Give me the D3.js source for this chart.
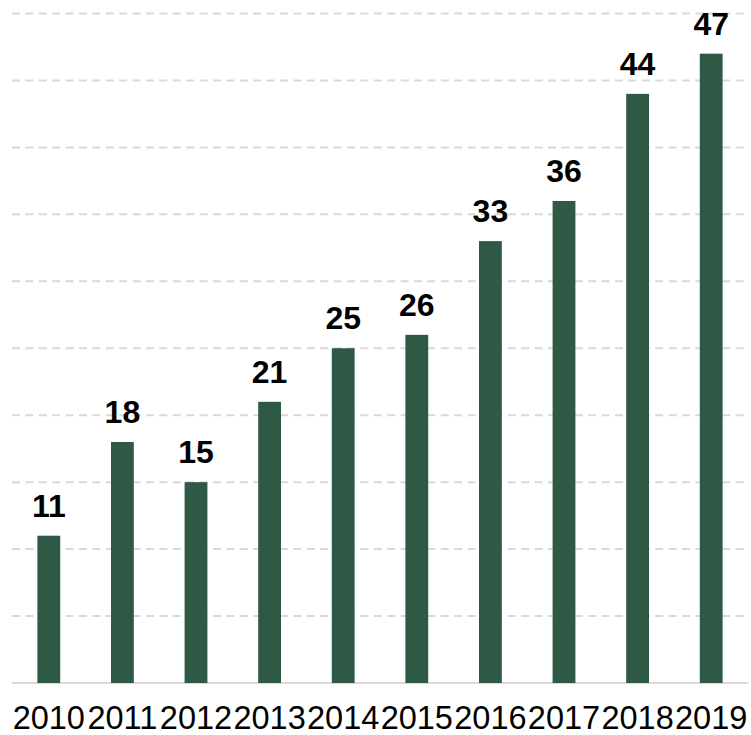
<!DOCTYPE html>
<html>
<head>
<meta charset="utf-8">
<script src="https://d3js.org/d3.v7.min.js"></script>
<style>
 body { margin: 0; background: #fff; }
 .bar { fill: #2e5945; }
 .grid line { stroke: #d9d9d9; stroke-width: 2; stroke-dasharray: 8,5.4; }
 .value { font: bold 32px "Liberation Sans", Arial, sans-serif; fill: #000; text-anchor: middle; }
 .year { font: 32.5px "Liberation Sans", Arial, sans-serif; fill: #000; text-anchor: middle; }
</style>
</head>
<body>
<div id="chart"></div>
<script>
var years = ["2010","2011","2012","2013","2014","2015","2016","2017","2018","2019"];
var values = [11, 18, 15, 21, 25, 26, 33, 36, 44, 47];
var gridTicks = [5, 10, 15, 20, 25, 30, 35, 40, 45, 50];

var width = 751, height = 735;
var plotLeft = 12, plotRight = 748, plotBottom = 683, plotTop = 13.5;

var svg = d3.select("#chart").append("svg")
  .attr("width", width)
  .attr("height", height);

var x = d3.scaleBand().domain(years).range([plotLeft, plotRight])
  .paddingInner(0.69).paddingOuter(0.345);
var y = d3.scaleLinear().domain([0, 50]).range([plotBottom, plotTop]);

svg.append("g").attr("class", "grid")
  .selectAll("line")
  .data(gridTicks)
  .enter().append("line")
  .attr("x1", plotLeft).attr("x2", plotRight)
  .attr("y1", d => y(d)).attr("y2", d => y(d));

svg.append("line")
  .attr("x1", plotLeft).attr("x2", plotRight)
  .attr("y1", y(0)).attr("y2", y(0))
  .attr("stroke", "#d9d9d9").attr("stroke-width", 2);

svg.selectAll(".bar")
  .data(values)
  .enter().append("rect")
  .attr("class", "bar")
  .attr("x", (d, i) => x(years[i]))
  .attr("y", d => y(d))
  .attr("width", x.bandwidth())
  .attr("height", d => y(0) - y(d));

svg.selectAll(".value")
  .data(values)
  .enter().append("text")
  .attr("class", "value")
  .attr("x", (d, i) => x(years[i]) + x.bandwidth() / 2)
  .attr("y", d => y(d) - 19)
  .text(d => d);

svg.selectAll(".year")
  .data(years)
  .enter().append("text")
  .attr("class", "year")
  .attr("x", d => x(d) + x.bandwidth() / 2)
  .attr("y", 729)
  .text(d => d);
</script>
</body>
</html>
